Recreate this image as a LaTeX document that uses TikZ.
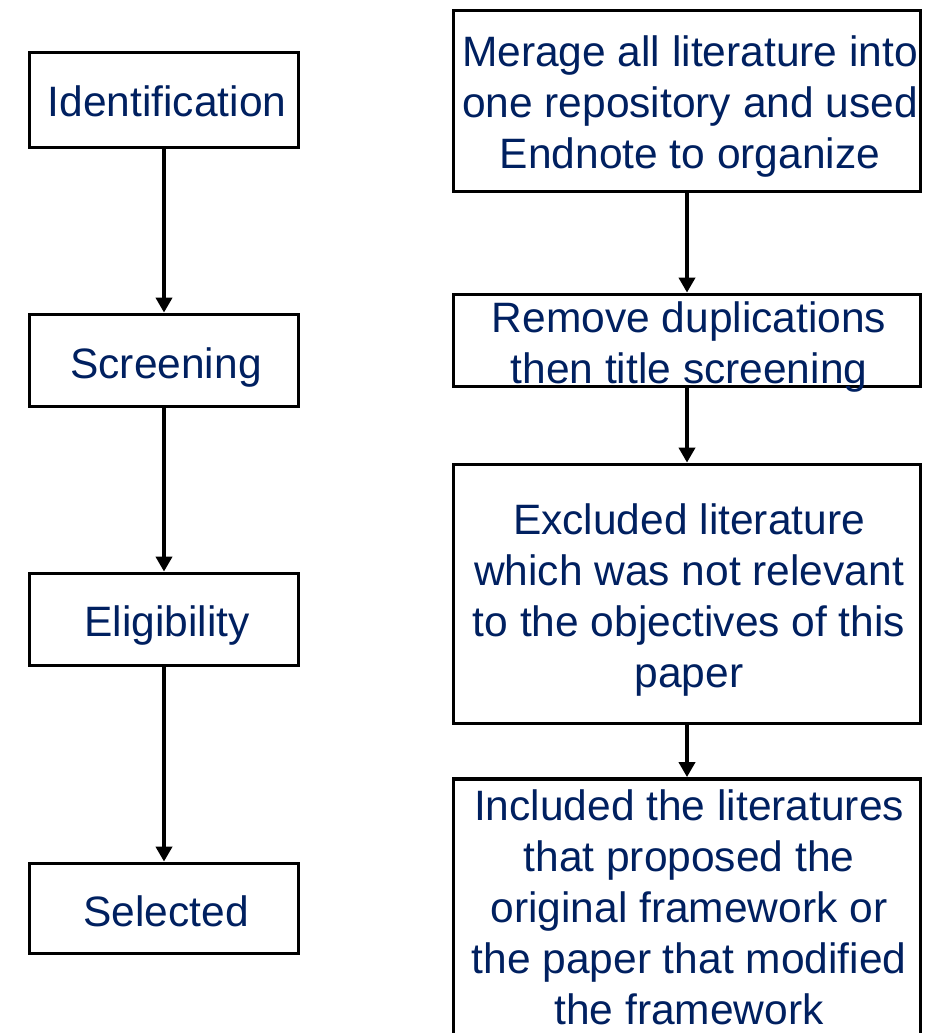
\documentclass[tikz,border=0pt]{standalone}
\usepackage{fontspec}
\setmainfont{Liberation Sans}
\usetikzlibrary{arrows.meta}
\definecolor{navy}{HTML}{002060}
\begin{document}
\begin{tikzpicture}[x=1pt,y=-1pt,
  box/.style={draw=black,line width=3.8pt,inner sep=0pt,fill=white},
  lbox/.style={box,minimum width=269pt},
  rbox/.style={box,minimum width=467pt},
  txt/.style={inner sep=0pt,text=navy,align=center,font=\fontsize{42.5}{51}\selectfont},
  conn/.style={line width=3.8pt,-{Triangle[width=16pt,length=15pt]}}]
\useasboundingbox (0,0) rectangle (941,1033);
\clip (0,0) rectangle (941,1033);
% left column
\node[lbox,minimum height=95pt] (L1) at (164,100) {};
\node[lbox,minimum height=92pt] (L2) at (164,360.5) {};
\node[lbox,minimum height=92pt] (L3) at (164,619.5) {};
\node[lbox,minimum height=90pt] (L4) at (164,908.5) {};
\node[txt] (LT1) at (167,101) {Identification};
\node[txt] (LT2) at (166,367.5) {Screening};
\node[txt] (LT3) at (167,625.5) {Eligibility};
\node[txt] (LT4) at (166,911) {Selected};
\draw[conn] (L1.south) -- (L2.north);
\draw[conn] (L2.south) -- (L3.north);
\draw[conn] (L3.south) -- (L4.north);
% right column
\node[rbox,minimum height=181pt] (R1) at (687,101) {};
\node[rbox,minimum height=92pt] (R2) at (687,340.5) {};
\node[rbox,minimum height=259pt] (R3) at (687,594) {};
\node[rbox,minimum height=320pt] (R4) at (687,939) {};
\node[txt] (RT1) at (690,107) {Merage all literature into\\one repository and used\\Endnote to organize};
\node[txt] (RT2) at (689,347) {Remove duplications\\then title screening};
\node[txt] (RT3) at (689,600) {Excluded literature\\which was not relevant\\to the objectives of this\\paper};
\node[txt] (RT4) at (689,907) {Included the literatures\\that proposed the\\original framework or\\the paper that modified\\the framework};
\draw[conn] (R1.south) -- (R2.north);
\draw[conn] (R2.south) -- (R3.north);
\draw[conn] (R3.south) -- (R4.north);
\end{tikzpicture}
\end{document}
